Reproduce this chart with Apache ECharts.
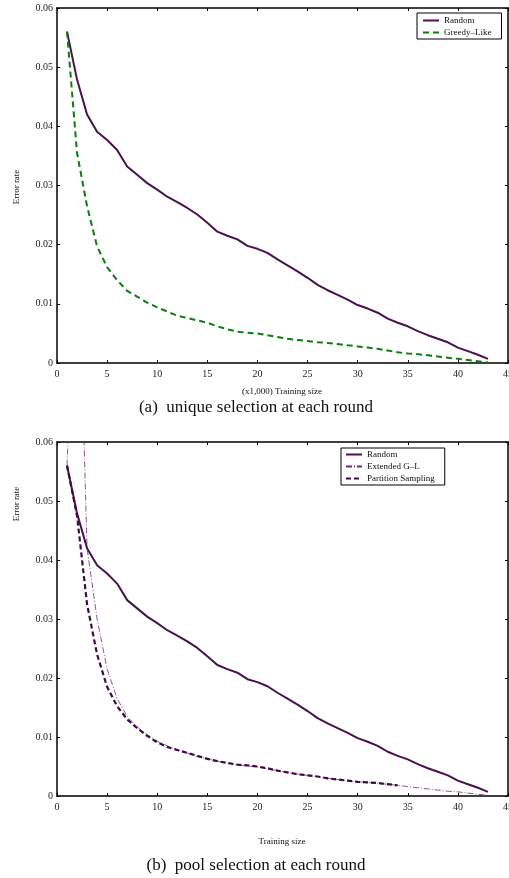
<!DOCTYPE html>
<html>
<head>
<meta charset="utf-8">
<script src="https://cdn.jsdelivr.net/npm/echarts@6/dist/echarts.min.js"></script>
<style>
html,body{margin:0;padding:0;background:#fff;}
#chart{width:509px;height:878px;}
</style>
</head>
<body>
<div id="chart"></div>
<script>
// ---- data ----
var xTicks = [0, 5, 10, 15, 20, 25, 30, 35, 40, 45];
var yTicks = [0, 0.01, 0.02, 0.03, 0.04, 0.05, 0.06];
var sizes = [1,2,3,4,5,6,7,8,9,10,11,12,13,14,15,16,17,18,19,20,21,22,23,24,25,26,27,28,29,30,31,32,33,34,35,36,37,38,39,40,41,42,43];
var randomErr = [0.0560,0.0479,0.0420,0.0391,0.0377,0.0360,0.0332,0.0318,0.0304,0.0293,0.0281,0.0272,0.0262,0.0251,0.0237,0.0222,0.0215,0.0209,0.0198,0.0193,0.0186,0.0175,0.0165,0.0155,0.0144,0.0132,0.0123,0.0115,0.0107,0.0098,0.0092,0.0085,0.0075,0.0068,0.0062,0.0054,0.0047,0.0041,0.0035,0.0026,0.0020,0.0014,0.0007];
var greedyErr = [0.0560,0.0355,0.0265,0.0197,0.0162,0.0140,0.0122,0.0112,0.0102,0.0094,0.0087,0.0080,0.0076,0.0072,0.0068,0.0062,0.0057,0.0053,0.0051,0.0050,0.0047,0.0044,0.0041,0.0039,0.0037,0.0035,0.0034,0.0032,0.0030,0.0028,0.0026,0.0024,0.0021,0.0018,0.0016,0.0015,0.0013,0.0011,0.0009,0.0007,0.0005,0.0003,0.0001];
var extendedErr = [0.0560,0.1020,0.0420,0.0300,0.0215,0.0165,0.0135,0.0117,0.0104,0.0093,0.0085,0.0078,0.0073,0.0067,0.0063,0.0059,0.0056,0.0053,0.0051,0.0049,0.0046,0.0043,0.0040,0.0037,0.0035,0.0033,0.0030,0.0028,0.0026,0.0024,0.0023,0.0021,0.0020,0.0018,0.0016,0.0014,0.0012,0.0010,0.0008,0.0007,0.0005,0.0003,0.0001];
var partitionErr = [0.0560,0.0475,0.0325,0.0240,0.0185,0.0152,0.0130,0.0115,0.0102,0.0091,0.0083,0.0078,0.0073,0.0068,0.0063,0.0059,0.0056,0.0053,0.0052,0.0050,0.0047,0.0043,0.0040,0.0037,0.0035,0.0033,0.0030,0.0028,0.0026,0.0024,0.0023,0.0022,0.0020,0.0018];

function pairs(v){ var out=[]; for(var i=0;i<v.length;i++){ out.push([sizes[i], v[i]]); } return out; }

var FONT = "'Liberation Serif','Times New Roman',serif";
var C_RANDOM = '#4a1050';
var C_GREEDY = '#0b7d0b';
var C_EXT = '#6e2a72';
var C_PART = '#3e0a44';

function xAx(grid, pos){
  return {
    type:'value', gridIndex:grid, position:pos, min:0, max:45, interval:5,
    axisLine:{show:true, onZero:false, lineStyle:{color:'#000', width:1.5}},
    axisTick:{show:true, inside:true, length:3, lineStyle:{color:'#000', width:1}},
    axisLabel:{show:pos==='bottom', margin:6, color:'#222', fontFamily:FONT, fontSize:10},
    splitLine:{show:false}
  };
}
function yAx(grid, pos){
  return {
    type:'value', gridIndex:grid, position:pos, min:0, max:0.06, interval:0.01,
    axisLine:{show:true, onZero:false, lineStyle:{color:'#000', width:1.5}},
    axisTick:{show:true, inside:true, length:3, lineStyle:{color:'#000', width:1}},
    axisLabel:{show:pos==='left', margin:4, color:'#222', fontFamily:FONT, fontSize:10,
      formatter:function(v){ return String(+v.toFixed(2)); }},
    splitLine:{show:false}
  };
}
function legendCfg(names, left, top, padding){
  return {
    data:names, orient:'vertical', left:left, top:top,
    backgroundColor:'#fff', borderColor:'#000', borderWidth:1, padding:padding,
    itemWidth:16, itemHeight:8, itemGap:3,
    itemStyle:{opacity:0},
    textStyle:{fontFamily:FONT, fontSize:9, color:'#111'}
  };
}

var chart = echarts.init(document.getElementById('chart'), null, {renderer:'canvas'});
chart.setOption({
  backgroundColor:'#fff',
  animation:false,
  grid:[
    {left:57, top:8, width:451, height:355, containLabel:false, outerBoundsMode:'none'},
    {left:57, top:442, width:451, height:354, containLabel:false, outerBoundsMode:'none'}
  ],
  xAxis:[xAx(0,'bottom'), xAx(0,'top'), xAx(1,'bottom'), xAx(1,'top')],
  yAxis:[yAx(0,'left'), yAx(0,'right'), yAx(1,'left'), yAx(1,'right')],
  legend:[
    legendCfg(['Random','Greedy–Like'], 417, 13, [3,10,2,5]),
    legendCfg(['Random','Extended G–L','Partition Sampling'], 341, 448, [2,10,2,4])
  ],
  series:[
    {name:'Random', type:'line', xAxisIndex:0, yAxisIndex:0, data:pairs(randomErr), symbol:'none', clip:true,
     lineStyle:{color:C_RANDOM, width:2}, itemStyle:{color:C_RANDOM}},
    {name:'Greedy–Like', type:'line', xAxisIndex:0, yAxisIndex:0, data:pairs(greedyErr), symbol:'none', clip:true,
     lineStyle:{color:C_GREEDY, width:2, type:[6,4]}, itemStyle:{color:C_GREEDY}},
    {name:'Random', type:'line', xAxisIndex:2, yAxisIndex:2, data:pairs(randomErr), symbol:'none', clip:true,
     lineStyle:{color:C_RANDOM, width:2}, itemStyle:{color:C_RANDOM}},
    {name:'Extended G–L', type:'line', xAxisIndex:2, yAxisIndex:2, data:pairs(extendedErr), symbol:'none', clip:true,
     lineStyle:{color:C_EXT, width:0.8, type:[6,2,1,2]}, itemStyle:{color:C_EXT}},
    {name:'Partition Sampling', type:'line', xAxisIndex:2, yAxisIndex:2, data:pairs(partitionErr), symbol:'none', clip:true,
     lineStyle:{color:C_PART, width:2.2, type:[5,3]}, itemStyle:{color:C_PART}}
  ],
  graphic:[
    {type:'text', style:{text:'(x1,000) Training size', x:282, y:392, align:'center', verticalAlign:'middle', font:'9px '+FONT, fill:'#111'}},
    {type:'text', style:{text:'(a)  unique selection at each round', x:256, y:408, align:'center', verticalAlign:'middle', font:'17px '+FONT, fill:'#111'}},
    {type:'text', style:{text:'Training size', x:282, y:842, align:'center', verticalAlign:'middle', font:'9px '+FONT, fill:'#111'}},
    {type:'text', style:{text:'(b)  pool selection at each round', x:256, y:866, align:'center', verticalAlign:'middle', font:'17px '+FONT, fill:'#111'}},
    {type:'text', x:17, y:187, rotation:Math.PI/2, style:{text:'Error rate', x:0, y:0, align:'center', verticalAlign:'middle', font:'9px '+FONT, fill:'#111'}},
    {type:'text', x:17, y:504, rotation:Math.PI/2, style:{text:'Error rate', x:0, y:0, align:'center', verticalAlign:'middle', font:'9px '+FONT, fill:'#111'}}
  ]
});
</script>
</body>
</html>
